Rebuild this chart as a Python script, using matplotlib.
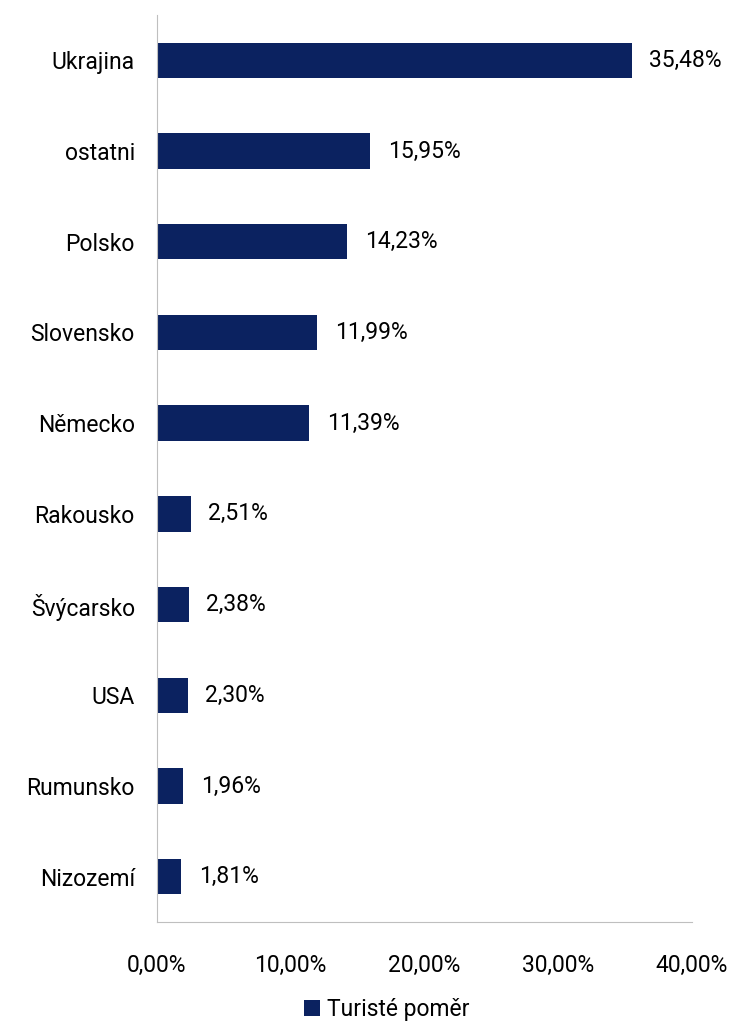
import matplotlib.pyplot as plt
from matplotlib.ticker import FuncFormatter

countries = ["Ukrajina", "ostatni", "Polsko", "Slovensko", "Německo",
             "Rakousko", "Švýcarsko", "USA", "Rumunsko", "Nizozemí"]
shares = [35.48, 15.95, 14.23, 11.99, 11.39, 2.51, 2.38, 2.30, 1.96, 1.81]
series_name = "Turisté poměr"

plt.rcParams['font.family'] = ['Roboto', 'DejaVu Sans']
navy = "#0b2260"
fs = 16.5

fig = plt.figure(figsize=(7.36, 10.23), dpi=100)
ax = fig.add_axes([0.2133, 0.0987, 0.7269, 0.8866])

pos = list(range(len(countries)))
bars = ax.barh(pos, shares, height=0.39, color=navy, label=series_name)
ax.set_yticks(pos)
ax.set_yticklabels(countries)
ax.set_ylim(len(countries) - 0.5, -0.5)
ax.set_xlim(0, 40)
ax.set_xticks([0, 10, 20, 30, 40])
ax.xaxis.set_major_formatter(FuncFormatter(lambda v, p: f"{v:.2f}%".replace(".", ",")))

for b, v in zip(bars, shares):
    ax.text(b.get_width() + 1.3, b.get_y() + b.get_height() / 2,
            f"{v:.2f}%".replace(".", ","), va="center", ha="left",
            fontsize=fs, color="black")

for s in ["top", "right"]:
    ax.spines[s].set_visible(False)
for s in ["left", "bottom"]:
    ax.spines[s].set_color("#bfbfbf")
ax.tick_params(axis="both", length=0, labelsize=fs, colors="black")
ax.tick_params(axis="y", pad=16)
ax.tick_params(axis="x", pad=23)

fig.legend(loc="center", bbox_to_anchor=(0.525, 0.013), frameon=False,
           fontsize=fs, handlelength=0.7, handleheight=0.7, handletextpad=0.3)

fig.savefig("out.png", dpi=100)
